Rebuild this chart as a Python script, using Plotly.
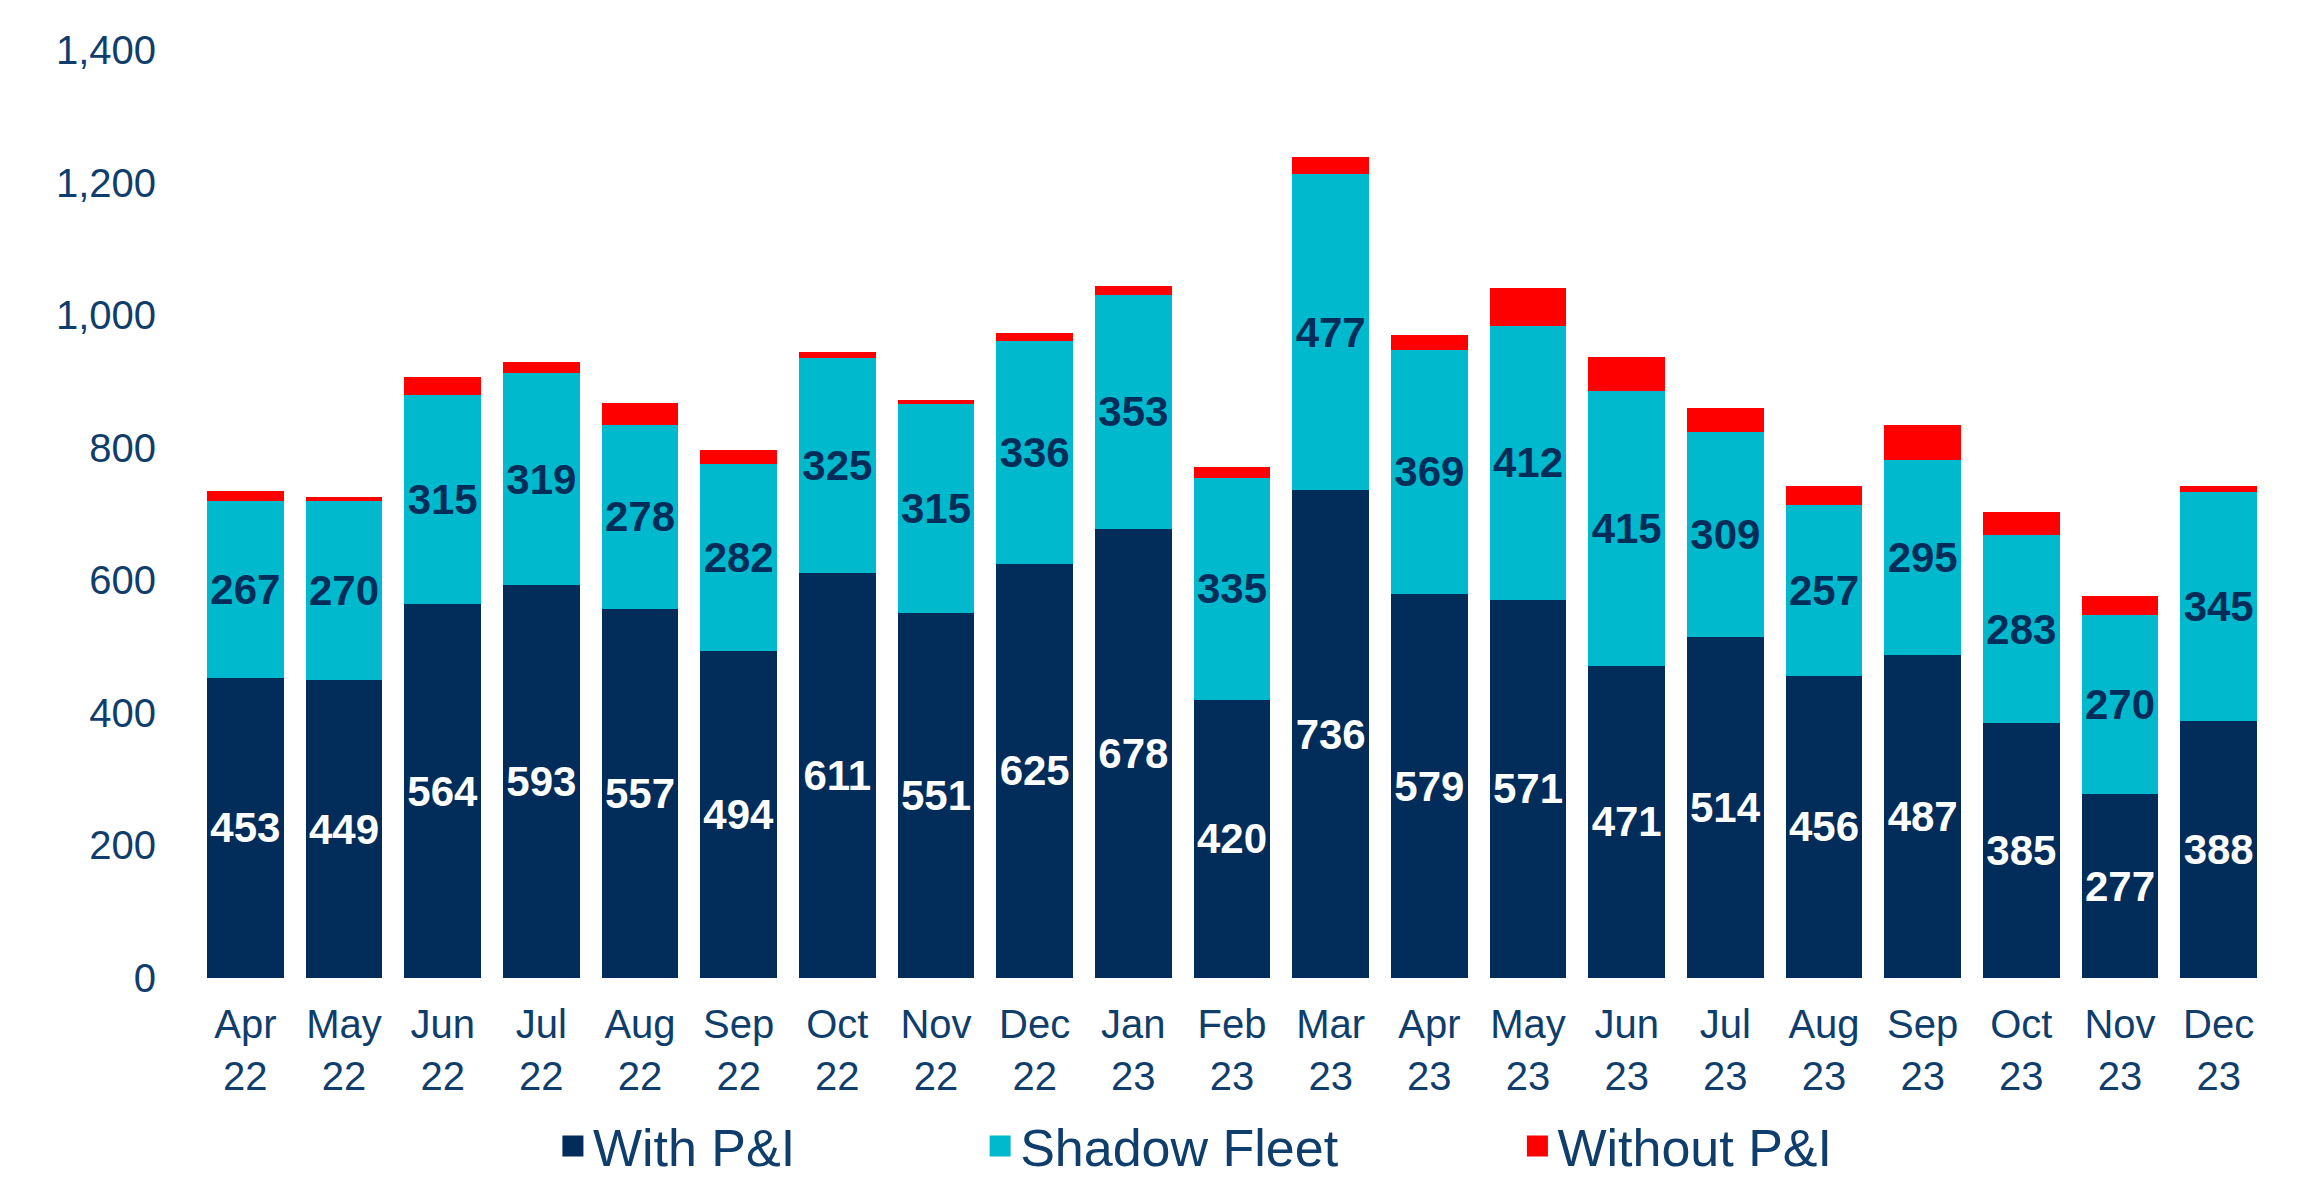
import plotly.graph_objects as go

categories = ["Apr 22", "May 22", "Jun 22", "Jul 22", "Aug 22", "Sep 22", "Oct 22",
              "Nov 22", "Dec 22", "Jan 23", "Feb 23", "Mar 23", "Apr 23", "May 23",
              "Jun 23", "Jul 23", "Aug 23", "Sep 23", "Oct 23", "Nov 23", "Dec 23"]
tick_labels = [c.replace(" ", "<br>") for c in categories]

with_pi = [453, 449, 564, 593, 557, 494, 611, 551, 625, 678, 420, 736, 579, 571,
           471, 514, 456, 487, 385, 277, 388]
shadow_fleet = [267, 270, 315, 319, 278, 282, 325, 315, 336, 353, 335, 477, 369, 412,
                415, 309, 257, 295, 283, 270, 345]
without_pi = [15, 6, 28, 18, 32, 21, 8, 6, 12, 13, 16, 25, 22, 58,
              51, 37, 29, 53, 35, 30, 10]

series_names = ["With P&I", "Shadow Fleet", "Without P&I"]
y_ticks = [0, 200, 400, 600, 800, 1000, 1200, 1400]

NAVY = "#022D5A"
CYAN = "#00B9CC"
RED = "#FF0000"
TXT = "#0F3E6C"
FONT = "Liberation Sans, Arial, sans-serif"
colors = [NAVY, CYAN, RED]

fig = go.Figure()
fig.add_trace(go.Bar(
    x=categories, y=with_pi, name=series_names[0], marker=dict(color=NAVY, line=dict(width=0)),
    text=with_pi, texttemplate="%{text}", textposition="inside", insidetextanchor="middle",
    textangle=0, textfont=dict(color="white", size=42, family=FONT, weight="bold"),
    constraintext="none", showlegend=False))
fig.add_trace(go.Bar(
    x=categories, y=shadow_fleet, name=series_names[1], marker=dict(color=CYAN, line=dict(width=0)),
    text=shadow_fleet, texttemplate="%{text}", textposition="inside", insidetextanchor="middle",
    textangle=0, textfont=dict(color=NAVY, size=42, family=FONT, weight="bold"),
    constraintext="none", showlegend=False))
fig.add_trace(go.Bar(
    x=categories, y=without_pi, name=series_names[2], marker=dict(color=RED, line=dict(width=0)),
    textposition="none", showlegend=False))

# legend swatches (larger squares than default bar swatches)
for name, col, leg in zip(series_names, colors, ["legend", "legend2", "legend3"]):
    fig.add_trace(go.Scatter(
        x=[None], y=[None], mode="markers", name=name, legend=leg, showlegend=True,
        marker=dict(symbol="square", size=16, color=col, line=dict(color=col, width=5))))

leg_common = dict(xref="container", yref="container", y=0.033, yanchor="middle",
                  xanchor="left", font=dict(size=52, color=TXT, family=FONT),
                  bgcolor="rgba(0,0,0,0)", borderwidth=0, itemsizing="trace")

fig.update_layout(
    width=2308, height=1177,
    barmode="stack", bargap=0.22,
    plot_bgcolor="white", paper_bgcolor="white",
    margin=dict(l=188, r=48, t=42, b=207, autoexpand=False),
    font=dict(family=FONT, color=TXT),
    xaxis=dict(tickmode="array", tickvals=categories, ticktext=tick_labels,
               tickfont=dict(size=40, color=TXT, family=FONT), showgrid=False,
               showline=False, zeroline=False, ticks="", ticklabelstandoff=19,
               tickangle=0, automargin=False),
    yaxis=dict(range=[0, 1400], tickvals=y_ticks, tickformat=",",
               tickfont=dict(size=40, color=TXT, family=FONT), showgrid=False,
               showline=False, zeroline=False, ticks="", ticklabelstandoff=39,
               automargin=False),
    legend=dict(x=0.2361, **leg_common),
    legend2=dict(x=0.4212, **leg_common),
    legend3=dict(x=0.6540, **leg_common),
    showlegend=True,
)

fig.write_html("out.html")
